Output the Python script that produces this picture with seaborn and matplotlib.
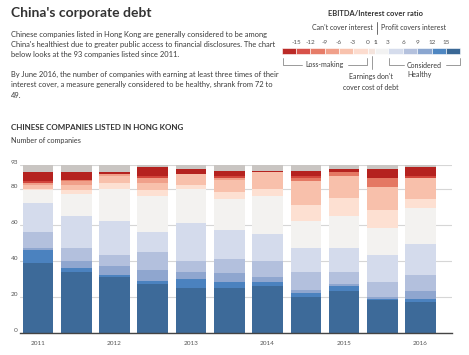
import seaborn as sns
import matplotlib.pyplot as plt
import numpy as np

sns.set_style("white")
plt.rcParams['font.family'] = ['Lato', 'DejaVu Sans']

periods = ["Jun 2011", "Dec 2011", "Jun 2012", "Dec 2012", "Jun 2013", "Dec 2013",
           "Jun 2014", "Dec 2014", "Jun 2015", "Dec 2015", "Jun 2016"]
year_labels = ["2011", "2012", "2013", "2014", "2015", "2016"]
y_ticks = [0, 20, 40, 60, 80, 93]

# companies per EBITDA/interest cover bucket, listed bottom to top
above_15 = [39, 34, 31, 27, 25, 25, 26, 20, 23, 18, 17]
r12_15 = [7, 2, 1, 2, 5, 3, 2, 2, 3, 1, 2]
r9_12 = [1, 4, 5, 6, 4, 5, 3, 2, 1, 1, 4]
r6_9 = [9, 7, 6, 10, 6, 8, 9, 10, 7, 8, 9]
r3_6 = [16, 18, 19, 11, 21, 16, 15, 13, 13, 15, 17]
r1_3 = [7, 12, 18, 20, 19, 17, 21, 15, 18, 15, 20]
rm3_0 = [1, 2, 3, 3, 2, 4, 4, 9, 10, 10, 5]
rm6_m3 = [2, 3, 4, 4, 6, 7, 9, 13, 12, 13, 12]
rm9_m6 = [1, 2, 1, 3, 0, 1, 0, 0, 0, 0, 0]
rm12_m9 = [0, 1, 0, 0, 0, 0, 0, 2, 2, 5, 0]
rm15_m12 = [1, 0, 0, 1, 0, 1, 0, 1, 0, 0, 1]
below_m15 = [5, 4, 1, 5, 3, 3, 1, 3, 2, 5, 5]
no_data = [4, 4, 4, 1, 2, 3, 3, 3, 2, 2, 1]

layers = [
    (above_15, "#3d6a99"),
    (r12_15, "#4b82bf"),
    (r9_12, "#8fa6cf"),
    (r6_9, "#b3c0dd"),
    (r3_6, "#d4dbec"),
    (r1_3, "#f3f2f0"),
    (rm3_0, "#fde0d2"),
    (rm6_m3, "#f8c0ab"),
    (rm9_m6, "#f0a08a"),
    (rm12_m9, "#e47863"),
    (rm15_m12, "#d2463c"),
    (below_m15, "#b5221f"),
    (no_data, "#c9c5c2"),
]

# legend scale
legend_colors = ["#bb2a27", "#d8524a", "#e67c68", "#f0a08a", "#f8c2ad", "#fcdccf",
                 "#f4e4dd", "#f2f2f2", "#d5dcec", "#b4c1dd", "#8aa6d0", "#4f87c2", "#3a6896"]
legend_labels = ["-15", "-12", "-9", "-6", "-3", "0", "1", "3", "6", "9", "12", "15"]
legend_edges = [282, 296, 310, 325, 339, 353, 368, 375, 388, 403, 417, 432, 446, 460]

txt = "#3a3a3a"
fig = plt.figure(figsize=(4.69, 3.55), dpi=100)

ax = fig.add_axes([20 / 469, 22.3 / 355, 432 / 469, 167.4 / 355])
cum = np.cumsum([l[0] for l in layers], axis=0)
# draw cumulative totals from the top layer down so each layer covers the ones above
for i in range(len(layers) - 1, -1, -1):
    sns.barplot(x=periods, y=cum[i], color=layers[i][1], saturation=1, width=0.8,
                linewidth=0, errorbar=None, order=periods, ax=ax)
for p in ax.patches:
    p.set_antialiased(False)

ax.set_xlim(-0.47, 10.82)
ax.set_ylim(0, 93)
ax.set_yticks(y_ticks)
ax.set_xticks(range(0, 11, 2), year_labels)
ax.set_xlabel("")
ax.set_ylabel("")
ax.yaxis.grid(True, color="#d6d6d6", lw=0.8)
ax.set_axisbelow(True)
sns.despine(ax=ax, left=True)
ax.spines["bottom"].set_color("#444444")
ax.spines["bottom"].set_linewidth(1.0)
ax.tick_params(axis="y", length=0, pad=1.5, labelsize=4.6, labelcolor="#555555")
ax.tick_params(axis="x", length=2, width=0.5, color="#888888", pad=4, labelsize=4.6,
               labelcolor="#555555")
for lab in ax.get_yticklabels():
    lab.set_va("bottom")

ov = fig.add_axes([0, 0, 1, 1])
ov.set_xlim(0, 469)
ov.set_ylim(355, 0)
ov.axis("off")

ov.text(11, 13, "China's corporate debt", fontsize=10, fontweight="bold", color="#333333", va="center")
para1 = ["Chinese companies listed in Hong Kong are generally considered to be among",
         "China's healthiest due to greater public access to financial disclosures. The chart",
         "below looks at the 93 companies listed since 2011."]
para2 = ["By June 2016, the number of companies with earning at least three times of their",
         "interest cover, a measure generally considered to be healthy, shrank from 72 to",
         "49."]
for k, line in enumerate(para1):
    ov.text(11, 34 + 10.5 * k, line, fontsize=5.4, color=txt, va="center")
for k, line in enumerate(para2):
    ov.text(11, 74 + 10.8 * k, line, fontsize=5.4, color=txt, va="center")

ov.text(11, 127.5, "CHINESE COMPANIES LISTED IN HONG KONG", fontsize=5.8, fontweight="bold",
        color="#333333", va="center")
ov.text(11, 140.5, "Number of companies", fontsize=5.2, color=txt, va="center")

# colour key
ov.text(375, 13, "EBITDA/Interest cover ratio", fontsize=5.4, fontweight="bold", color="#333333",
        ha="center", va="center")
ov.text(373, 27, "Can't cover interest", fontsize=5.0, color=txt, ha="right", va="center")
ov.text(381, 27, "Profit covers interest", fontsize=5.0, color=txt, ha="left", va="center")
ov.plot([377, 377], [22, 34], color="#555555", lw=0.6)
for j, c in enumerate(legend_colors):
    ov.add_patch(plt.Rectangle((legend_edges[j], 48), legend_edges[j + 1] - legend_edges[j], 5.5,
                               facecolor=c, edgecolor="white", lw=0.4))
for j, lab in enumerate(legend_labels):
    ov.text(legend_edges[j + 1], 43, lab, fontsize=4.6, color="#555555", ha="center", va="center",
            fontweight="bold" if lab == "1" else "normal")

g = "#8a8a8a"
ov.plot([283, 283, 302], [58, 65, 65], color=g, lw=0.6)
ov.plot([348, 367, 367], [65, 65, 58], color=g, lw=0.6)
ov.text(325, 65, "Loss-making", fontsize=5.0, color=txt, ha="center", va="center")
ov.plot([372, 372], [56, 69], color=g, lw=0.6)
ov.text(371, 77, "Earnings don't", fontsize=5.0, color=txt, ha="center", va="center")
ov.text(371, 87, "cover cost of debt", fontsize=5.0, color=txt, ha="center", va="center")
ov.plot([389, 389, 404], [58, 65, 65], color=g, lw=0.6)
ov.plot([446, 460, 460], [65, 65, 58], color=g, lw=0.6)
ov.text(407, 65, "Considered", fontsize=5.0, color=txt, ha="left", va="center")
ov.text(407, 75, "Healthy", fontsize=5.0, color=txt, ha="left", va="center")

fig.savefig("out.png", dpi=100)
